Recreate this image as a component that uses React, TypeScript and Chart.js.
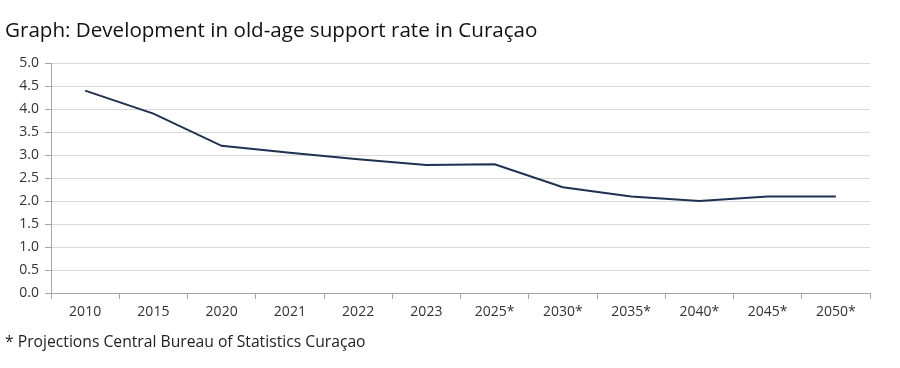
import React, { useEffect, useRef } from "react";
import { Chart, registerables } from "chart.js";

Chart.register(...registerables);

const categories = ["2010", "2015", "2020", "2021", "2022", "2023", "2025*", "2030*", "2035*", "2040*", "2045*", "2050*"];
const supportRate = [4.4, 3.9, 3.2, 3.05, 2.91, 2.78, 2.8, 2.3, 2.1, 2.0, 2.1, 2.1];
const yTicks = [0, 0.5, 1, 1.5, 2, 2.5, 3, 3.5, 4, 4.5, 5];

const FONT = "Open Sans";

export default function App() {
  const ref = useRef<HTMLCanvasElement | null>(null);
  useEffect(() => {
    if (!ref.current) return;
    const chart = new Chart(ref.current, {
      type: "line",
      data: {
        labels: categories,
        datasets: [
          {
            data: supportRate,
            borderColor: "#1f3152",
            borderWidth: 2,
            pointRadius: 0,
            tension: 0,
            fill: false,
          },
        ],
      },
      options: {
        animation: false,
        responsive: false,
        layout: { padding: { top: 63, right: 30, bottom: 45, left: 0 } },
        plugins: { legend: { display: false }, tooltip: { enabled: false } },
        scales: {
          x: {
            offset: true,
            grid: { display: true, drawOnChartArea: false, drawTicks: true, tickLength: 6, tickColor: "#a6a6a6", offset: true },
            border: { color: "#a6a6a6", width: 1 },
            ticks: { color: "#333333", font: { family: FONT, size: 14 }, padding: 5, maxRotation: 0, autoSkip: false },
            afterFit: (s: any) => { s.height = 30; },
          },
          y: {
            min: 0,
            max: 5,
            afterBuildTicks: (s: any) => { s.ticks = yTicks.map((v) => ({ value: v })); },
            grid: { color: "#d9d9d9", tickColor: "#a6a6a6", tickLength: 6, drawTicks: true },
            border: { color: "#a6a6a6", width: 1 },
            ticks: {
              color: "#333333",
              font: { family: FONT, size: 14 },
              padding: 6,
              callback: (v: any) => Number(v).toFixed(1),
            },
            afterFit: (s: any) => { s.width = 51; },
          },
        },
      },
    });
    return () => chart.destroy();
  }, []);
  return (
    <div style={{ position: "fixed", left: 0, top: 0, width: 900, height: 368, background: "#fff", fontFamily: FONT }}>
      <canvas ref={ref} width={900} height={368} style={{ position: "absolute", left: 0, top: 0 }} />
      <div style={{ position: "absolute", left: 5, top: 15, fontSize: 20.6, color: "#111", whiteSpace: "nowrap" }}>
        Graph: Development in old-age support rate in Curaçao
      </div>
      <div style={{ position: "absolute", left: 5, top: 330, fontSize: 15.7, color: "#222", whiteSpace: "nowrap" }}>
        * Projections Central Bureau of Statistics Curaçao
      </div>
    </div>
  );
}
